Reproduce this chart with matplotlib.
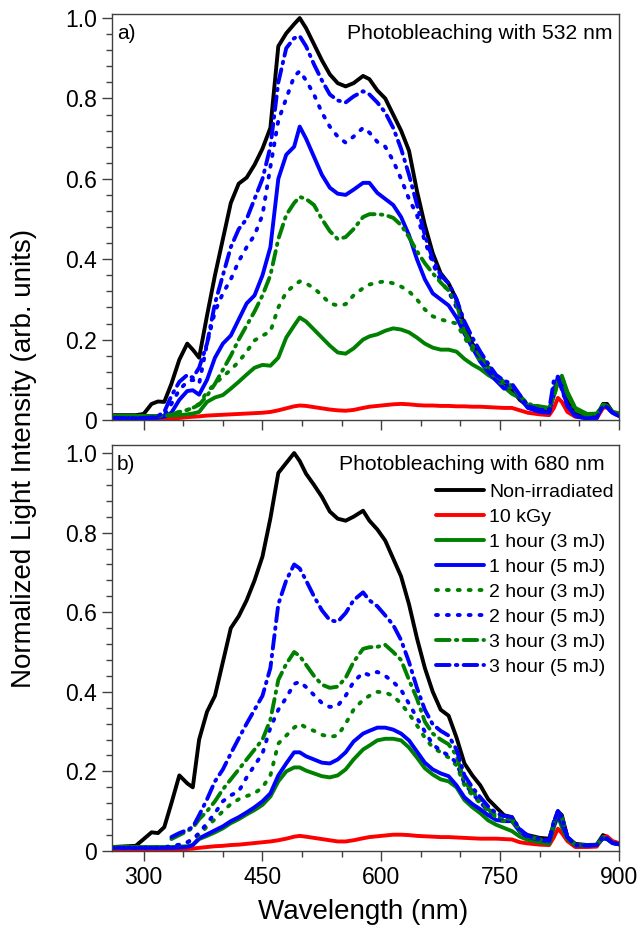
import numpy as np
import matplotlib
matplotlib.use('Agg')
import matplotlib.pyplot as plt
from matplotlib.ticker import MultipleLocator, FuncFormatter

plt.rcParams['font.family'] = ['Liberation Sans', 'DejaVu Sans']

nan = np.nan

wavelength = [260, 290, 300, 310, 318, 326, 335, 345, 355, 362, 370, 380, 390, 400, 410,
              420, 430, 440, 450, 460, 470, 480, 490, 497, 505, 515, 525, 535, 545, 555,
              565, 577, 585, 595, 605, 615, 625, 635, 645, 655, 665, 675, 685, 695, 705,
              715, 725, 735, 745, 755, 765, 775, 785, 800, 812, 818, 823, 828, 835, 845,
              860, 872, 880, 885, 892, 900]

labels = ['Non-irradiated', '10 kGy', '1 hour (3 mJ)', '1 hour (5 mJ)',
          '2 hour (3 mJ)', '2 hour (5 mJ)', '3 hour (3 mJ)', '3 hour (5 mJ)']

# panel a) photobleaching with 532 nm
a_nonirr = [0.012, 0.012, 0.015, 0.04, 0.046, 0.045, 0.09, 0.15, 0.19, 0.175, 0.155, 0.26, 0.36, 0.45, 0.54,
            0.588, 0.603, 0.635, 0.675, 0.727, 0.93, 0.962, 0.985, 1.0, 0.975, 0.935, 0.895, 0.86, 0.838, 0.83,
            0.838, 0.856, 0.848, 0.82, 0.80, 0.76, 0.72, 0.67, 0.57, 0.485, 0.415, 0.365, 0.34, 0.30, 0.235,
            0.19, 0.16, 0.13, 0.105, 0.088, 0.075, 0.05, 0.035, 0.03, 0.022, 0.07, 0.1, 0.1, 0.05, 0.02,
            0.01, 0.006, 0.04, 0.04, 0.02, 0.012]
a_10kgy = [0, 0, 0, 0, 0.001, 0.002, 0.003, 0.005, 0.007, 0.008, 0.009, 0.011, 0.012, 0.013, 0.014,
           0.015, 0.016, 0.017, 0.018, 0.02, 0.024, 0.029, 0.034, 0.036, 0.035, 0.032, 0.029, 0.026, 0.024, 0.023,
           0.025, 0.03, 0.033, 0.035, 0.037, 0.039, 0.04, 0.039, 0.037, 0.036, 0.036, 0.035, 0.035, 0.034, 0.034,
           0.033, 0.033, 0.032, 0.031, 0.03, 0.03, 0.024, 0.018, 0.014, 0.012, 0.03, 0.055, 0.045, 0.02, 0.008,
           0.005, 0.004, 0.03, 0.032, 0.02, 0.015]
a_1h3 = [0.01, 0.01, 0.01, 0.01, 0.01, 0.01, 0.011, 0.012, 0.014, 0.016, 0.02, 0.045, 0.056, 0.062, 0.078,
         0.095, 0.113, 0.13, 0.137, 0.135, 0.155, 0.205, 0.235, 0.255, 0.245, 0.225, 0.205, 0.185, 0.168, 0.165,
         0.178, 0.2, 0.208, 0.213, 0.222, 0.228, 0.225, 0.218, 0.205, 0.19, 0.18, 0.175, 0.175, 0.17, 0.152,
         0.138, 0.127, 0.112, 0.1, 0.082, 0.065, 0.055, 0.036, 0.032, 0.028, 0.06, 0.095, 0.11, 0.07, 0.03,
         0.015, 0.016, 0.037, 0.035, 0.02, 0.017]
a_1h5 = [0.005, 0.005, 0.005, 0.005, 0.006, 0.008, 0.018, 0.05, 0.072, 0.074, 0.063, 0.1, 0.155, 0.19, 0.21,
         0.25, 0.29, 0.31, 0.36, 0.43, 0.6, 0.66, 0.68, 0.73, 0.7, 0.655, 0.61, 0.578, 0.563, 0.56,
         0.573, 0.59, 0.59, 0.565, 0.55, 0.535, 0.505, 0.46, 0.4, 0.35, 0.315, 0.3, 0.285, 0.255, 0.215,
         0.18, 0.145, 0.12, 0.098, 0.078, 0.085, 0.055, 0.03, 0.02, 0.018, 0.07, 0.105, 0.08, 0.035, 0.01,
         0.003, 0.006, 0.037, 0.032, 0.018, 0.01]
a_2h3 = [0.01, 0.01, 0.01, 0.01, 0.01, 0.012, 0.015, 0.02, 0.025, 0.03, 0.04, 0.07, 0.09, 0.108, 0.125,
         0.145, 0.17, 0.198, 0.21, 0.22, 0.28, 0.318, 0.335, 0.345, 0.34, 0.328, 0.31, 0.29, 0.285, 0.288,
         0.31, 0.328, 0.337, 0.342, 0.345, 0.34, 0.332, 0.32, 0.3, 0.275, 0.258, 0.25, 0.245, 0.24, 0.205,
         0.175, 0.148, 0.125, 0.103, 0.085, 0.08, 0.06, 0.038, 0.033, 0.028, 0.06, 0.095, 0.108, 0.065, 0.025,
         0.012, 0.014, 0.038, 0.035, 0.02, 0.016]
a_2h5 = [0.005, 0.005, 0.005, 0.005, 0.007, 0.012, 0.04, 0.075, 0.095, 0.1, 0.09, 0.19, 0.27, 0.315, 0.35,
         0.395, 0.43, 0.46, 0.51, 0.63, 0.745, 0.8, 0.855, 0.868, 0.845, 0.81, 0.765, 0.73, 0.705, 0.69,
         0.705, 0.727, 0.715, 0.692, 0.68, 0.645, 0.6, 0.55, 0.51, 0.445, 0.39, 0.345, 0.32, 0.28, 0.225,
         0.185, 0.152, 0.125, 0.105, 0.088, 0.085, 0.058, 0.032, 0.022, 0.02, 0.08, 0.105, 0.085, 0.038, 0.012,
         0.004, 0.006, 0.036, 0.032, 0.018, 0.01]
a_3h3 = [0.01, 0.01, 0.01, 0.01, 0.01, 0.011, 0.013, 0.02, 0.025, 0.03, 0.038, 0.06, 0.09, 0.125, 0.16,
         0.2, 0.235, 0.27, 0.31, 0.36, 0.45, 0.51, 0.54, 0.555, 0.55, 0.535, 0.5, 0.47, 0.45, 0.455,
         0.475, 0.505, 0.512, 0.512, 0.51, 0.503, 0.485, 0.455, 0.42, 0.39, 0.365, 0.342, 0.322, 0.29, 0.22,
         0.185, 0.16, 0.135, 0.11, 0.095, 0.085, 0.06, 0.04, 0.034, 0.03, 0.06, 0.095, 0.105, 0.065, 0.025,
         0.012, 0.014, 0.038, 0.035, 0.02, 0.016]
a_3h5 = [0.005, 0.005, 0.005, 0.006, 0.01, 0.02, 0.06, 0.095, 0.112, 0.105, 0.13, 0.19, 0.29, 0.36, 0.43,
         0.475, 0.5, 0.55, 0.6, 0.68, 0.84, 0.925, 0.95, 0.955, 0.93, 0.885, 0.845, 0.81, 0.795, 0.79,
         0.805, 0.818, 0.81, 0.79, 0.765, 0.727, 0.675, 0.61, 0.536, 0.46, 0.4, 0.36, 0.34, 0.3, 0.245,
         0.205, 0.17, 0.14, 0.112, 0.098, 0.09, 0.062, 0.035, 0.025, 0.025, 0.1, 0.108, 0.075, 0.035, 0.01,
         0.004, 0.006, 0.036, 0.032, 0.018, 0.01]

# panel b) photobleaching with 680 nm
b_nonirr = [0.01, 0.013, 0.03, 0.047, 0.045, 0.06, 0.12, 0.19, 0.17, 0.16, 0.28, 0.35, 0.39, 0.475, 0.56,
            0.59, 0.63, 0.68, 0.74, 0.836, 0.95, 0.975, 1.0, 0.98, 0.948, 0.92, 0.89, 0.853, 0.835, 0.83,
            0.84, 0.855, 0.83, 0.808, 0.78, 0.735, 0.69, 0.62, 0.535, 0.46, 0.4, 0.355, 0.34, 0.285, 0.22,
            0.19, 0.165, 0.13, 0.11, 0.09, 0.085, 0.05, 0.04, 0.033, 0.031, 0.07, 0.1, 0.09, 0.035, 0.018,
            0.015, 0.016, 0.04, 0.035, 0.022, 0.017]
b_10kgy = [0, 0, 0, 0, 0.001, 0.002, 0.003, 0.004, 0.005, 0.006, 0.008, 0.01, 0.012, 0.013, 0.015,
           0.016, 0.018, 0.02, 0.022, 0.024, 0.027, 0.031, 0.036, 0.038, 0.036, 0.033, 0.03, 0.027, 0.024, 0.024,
           0.027, 0.032, 0.035, 0.037, 0.039, 0.041, 0.041, 0.04, 0.038, 0.037, 0.036, 0.035, 0.035, 0.034, 0.033,
           0.032, 0.031, 0.031, 0.031, 0.03, 0.029, 0.022, 0.019, 0.016, 0.015, 0.035, 0.056, 0.045, 0.025, 0.01,
           0.01, 0.011, 0.035, 0.037, 0.025, 0.02]
b_1h3 = [0.01, 0.01, 0.01, 0.01, 0.01, 0.01, 0.01, 0.011, 0.012, 0.015, 0.03, 0.038, 0.047, 0.057, 0.07,
         0.08, 0.092, 0.103, 0.116, 0.137, 0.175, 0.2, 0.21, 0.21, 0.202, 0.195, 0.188, 0.185, 0.19, 0.205,
         0.23, 0.255, 0.265, 0.278, 0.282, 0.282, 0.278, 0.26, 0.235, 0.208, 0.192, 0.18, 0.175, 0.16, 0.128,
         0.11, 0.095, 0.077, 0.066, 0.058, 0.05, 0.036, 0.028, 0.022, 0.018, 0.06, 0.088, 0.06, 0.03, 0.015,
         0.014, 0.015, 0.032, 0.03, 0.02, 0.017]
b_1h5 = [0.008, 0.008, 0.008, 0.008, 0.008, 0.008, 0.008, 0.009, 0.01, 0.015, 0.032, 0.042, 0.052, 0.062, 0.075,
         0.085, 0.097, 0.11, 0.125, 0.145, 0.19, 0.22, 0.248, 0.248, 0.238, 0.23, 0.222, 0.22, 0.23, 0.248,
         0.275, 0.295, 0.302, 0.31, 0.31, 0.305, 0.295, 0.278, 0.25, 0.222, 0.205, 0.195, 0.188, 0.165, 0.135,
         0.118, 0.105, 0.09, 0.078, 0.075, 0.075, 0.048, 0.035, 0.028, 0.024, 0.065, 0.09, 0.07, 0.035, 0.014,
         0.014, 0.015, 0.032, 0.03, 0.02, 0.017]
b_2h3 = [0.01, 0.01, 0.01, 0.01, 0.01, 0.01, 0.012, 0.015, 0.022, 0.028, 0.04, 0.062, 0.08, 0.1, 0.118,
         0.13, 0.138, 0.145, 0.16, 0.19, 0.27, 0.29, 0.31, 0.32, 0.31, 0.302, 0.292, 0.287, 0.29, 0.32,
         0.355, 0.38, 0.39, 0.4, 0.398, 0.39, 0.37, 0.345, 0.316, 0.285, 0.26, 0.248, 0.235, 0.215, 0.165,
         0.14, 0.12, 0.1, 0.085, 0.075, 0.075, 0.05, 0.035, 0.028, 0.024, 0.07, 0.1, 0.08, 0.035, 0.015,
         0.014, 0.015, 0.035, 0.032, 0.02, 0.017]
b_2h5 = [0.008, 0.008, 0.008, 0.008, 0.008, 0.009, 0.012, 0.016, 0.022, 0.03, 0.045, 0.07, 0.095, 0.125, 0.14,
         0.15, 0.185, 0.215, 0.245, 0.31, 0.355, 0.385, 0.42, 0.425, 0.412, 0.392, 0.372, 0.362, 0.365, 0.39,
         0.425, 0.448, 0.442, 0.45, 0.44, 0.425, 0.405, 0.37, 0.335, 0.3, 0.268, 0.252, 0.24, 0.222, 0.17,
         0.145, 0.122, 0.102, 0.087, 0.08, 0.08, 0.052, 0.037, 0.03, 0.025, 0.075, 0.1, 0.08, 0.035, 0.015,
         0.014, 0.015, 0.035, 0.032, 0.02, 0.017]
b_3h3 = [nan, nan, nan, nan, nan, nan, 0.03, 0.04, 0.05, 0.058, 0.08, 0.1, 0.125, 0.155, 0.18,
         0.205, 0.23, 0.255, 0.28, 0.33, 0.43, 0.47, 0.5, 0.49, 0.468, 0.44, 0.418, 0.41, 0.413, 0.435,
         0.475, 0.508, 0.512, 0.513, 0.518, 0.5, 0.48, 0.43, 0.383, 0.325, 0.295, 0.28, 0.268, 0.24, 0.175,
         0.15, 0.127, 0.105, 0.09, 0.082, 0.08, 0.052, 0.037, 0.03, 0.025, 0.07, 0.1, 0.085, 0.035, 0.015,
         0.014, 0.015, 0.035, 0.032, 0.02, 0.017]
b_3h5 = [nan, nan, nan, nan, nan, nan, 0.035, 0.045, 0.053, 0.06, 0.09, 0.13, 0.175, 0.205, 0.245,
         0.283, 0.32, 0.355, 0.39, 0.46, 0.62, 0.68, 0.72, 0.71, 0.68, 0.64, 0.605, 0.58, 0.576, 0.598,
         0.63, 0.65, 0.63, 0.615, 0.592, 0.568, 0.53, 0.475, 0.41, 0.355, 0.318, 0.302, 0.29, 0.255, 0.19,
         0.16, 0.135, 0.112, 0.095, 0.088, 0.085, 0.055, 0.038, 0.03, 0.026, 0.075, 0.1, 0.085, 0.035, 0.015,
         0.014, 0.015, 0.035, 0.032, 0.02, 0.017]

colors = ['black', '#ff0000', '#008000', '#0000ff', '#008000', '#0000ff', '#008000', '#0000ff']
dot = (0, (0.5, 2.3))
dashdot = (0, (3.5, 1.6, 0.4, 1.6))
styles = ['-', '-', '-', '-', dot, dot, dashdot, dashdot]

fig = plt.figure(figsize=(6.4, 9.36), dpi=100)
ax_a = fig.add_axes([0.175, 0.5513, 0.792, 0.4337])
ax_b = fig.add_axes([0.175, 0.0908, 0.792, 0.4337])

panels = [(ax_a, [a_nonirr, a_10kgy, a_1h3, a_1h5, a_2h3, a_2h5, a_3h3, a_3h5], 'a)',
           'Photobleaching with 532 nm', 1.01, 0.987),
          (ax_b, [b_nonirr, b_10kgy, b_1h3, b_1h5, b_2h3, b_2h5, b_3h3, b_3h5], 'b)',
           'Photobleaching with 680 nm', 1.02, 0.972)]

for ax, series, tag, title, ytop, tx in panels:
    for vals, c, ls, lab in zip(series, colors, styles, labels):
        ax.plot(wavelength, vals, color=c, linestyle=ls, lw=2.8, label=lab,
                dash_capstyle='round', solid_capstyle='round', solid_joinstyle='round')
    ax.set_xlim(260, 900)
    ax.set_ylim(0, ytop)
    ax.xaxis.set_major_locator(MultipleLocator(150))
    ax.xaxis.set_minor_locator(MultipleLocator(50))
    ax.yaxis.set_major_locator(MultipleLocator(0.2))
    ax.yaxis.set_minor_locator(MultipleLocator(0.04))
    ax.yaxis.set_major_formatter(FuncFormatter(lambda v, p: '0' if abs(v) < 1e-9 else '%.1f' % v))
    ax.tick_params(which='major', direction='out', length=7, width=1, color='#404040',
                   labelsize=16.5, pad=4)
    ax.tick_params(which='minor', direction='out', length=4, width=1, color='#404040')
    for s in ax.spines.values():
        s.set_color('#404040')
        s.set_linewidth(1.0)
    ax.text(0.01, 0.953, tag, transform=ax.transAxes, fontsize=15, va='center', ha='left')
    ax.text(tx, 0.953, title, transform=ax.transAxes, fontsize=15.2, va='center', ha='right')

ax_a.tick_params(axis='x', labelbottom=False)

leg = ax_b.legend(loc='upper right', bbox_to_anchor=(0.99, 0.905), frameon=False, fontsize=14,
                  handlelength=2.5, handletextpad=0.25, labelspacing=0.38,
                  borderaxespad=0, borderpad=0)

fig.text(0.038, 0.510, 'Normalized Light Intensity (arb. units)', rotation=90,
         fontsize=20, ha='center', va='center')
fig.text(0.567, 0.026, 'Wavelength (nm)', fontsize=20, ha='center', va='center')

fig.savefig('out.png', dpi=100)
